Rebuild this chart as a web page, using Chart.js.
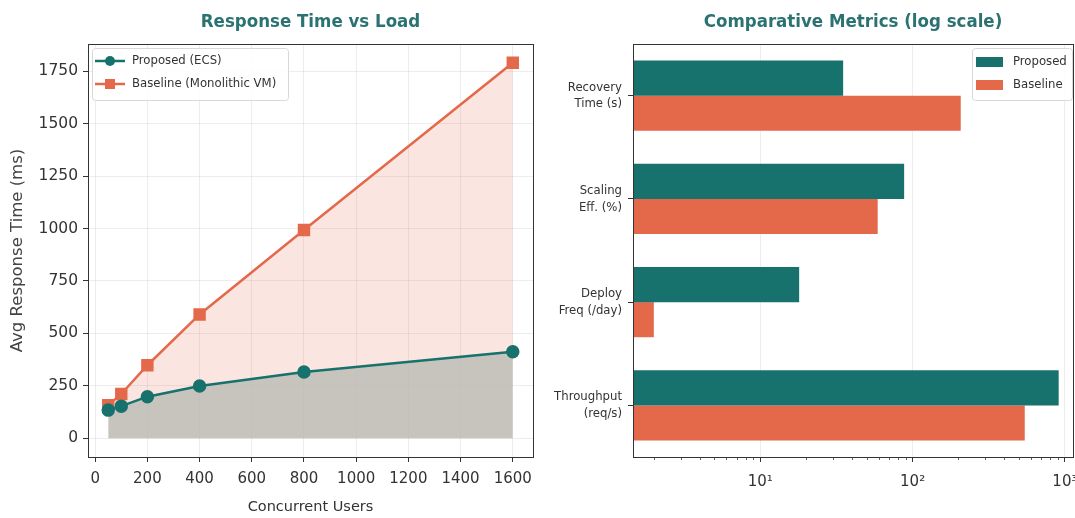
<!DOCTYPE html>
<html>
<head>
<meta charset="utf-8">
<script src="https://cdn.jsdelivr.net/npm/chart.js@4.4.1/dist/chart.umd.min.js"></script>
<style>
html,body{margin:0;padding:0;background:#fff;overflow:hidden;width:1075px;height:518px;}
#c1{position:absolute;left:0;top:0;}
#c2{position:absolute;left:545px;top:0;}
</style>
</head>
<body>
<canvas id="c1" width="545" height="518"></canvas>
<canvas id="c2" width="530" height="518"></canvas>
<script>
// ---- data ----
const USERS = [50, 100, 200, 400, 800, 1600];
const PROPOSED_MS = [134, 153, 198, 249, 316, 412];
const BASELINE_MS = [158, 211, 348, 590, 993, 1790];
const X_TICKS = [0, 200, 400, 600, 800, 1000, 1200, 1400, 1600];
const Y_TICKS = [0, 250, 500, 750, 1000, 1250, 1500, 1750];

const METRICS = [["Recovery", "Time (s)"], ["Scaling", "Eff. (%)"], ["Deploy", "Freq (/day)"], ["Throughput", "(req/s)"]];
const PROPOSED_M = [35, 88, 18, 910];
const BASELINE_M = [207, 59, 2, 545];
const LOG_TICKS = [10, 100, 1000];
const LOG_TICK_LABELS = ["10\u00b9", "10\u00b2", "10\u00b3"];

const SERIES_NAMES = ["Proposed (ECS)", "Baseline (Monolithic VM)"];
const BAR_NAMES = ["Proposed", "Baseline"];
const TITLES = ["Response Time vs Load", "Comparative Metrics (log scale)"];

// ---- style ----
const TEAL = "#17716c";
const ORANGE = "#e4694b";
const TITLE_COLOR = "#2b7272";
const FONT = '"DejaVu Sans Condensed", "DejaVu Sans", sans-serif';
const FONT_R = '"DejaVu Sans", sans-serif';
Chart.defaults.font.family = FONT;
Chart.defaults.color = "#333";

const boxPlugin = {
  id: "box",
  afterDatasetsDraw(chart) {
    const a = chart.chartArea, ctx = chart.ctx;
    ctx.save();
    ctx.strokeStyle = "#333";
    ctx.lineWidth = 1;
    ctx.strokeRect(Math.round(a.left) + 0.5, Math.round(a.top) + 0.5, Math.round(a.right - a.left), Math.round(a.bottom - a.top));
    ctx.restore();
  }
};

const axesTitle = {
  id: "axesTitle",
  afterDraw(chart, args, opts) {
    const a = chart.chartArea, ctx = chart.ctx;
    ctx.save();
    ctx.fillStyle = TITLE_COLOR;
    ctx.font = "bold 18.5px " + FONT;
    ctx.textAlign = "center";
    ctx.textBaseline = "middle";
    ctx.fillText(opts.text, (a.left + a.right) / 2, 22);
    ctx.restore();
  }
};

function legendBox(ctx, x, y, w, h) {
  ctx.save();
  ctx.fillStyle = "rgba(255,255,255,0.85)";
  ctx.strokeStyle = "#d8d8d8";
  ctx.lineWidth = 1;
  ctx.beginPath();
  ctx.roundRect(x + 0.5, y + 0.5, w, h, 3);
  ctx.fill();
  ctx.stroke();
  ctx.restore();
}

const lineLegend = {
  id: "lineLegend",
  afterDraw(chart) {
    const a = chart.chartArea, ctx = chart.ctx;
    const x = a.left + 4, y = a.top + 4;
    legendBox(ctx, x, y, 196, 52);
    const cols = [TEAL, ORANGE];
    SERIES_NAMES.forEach((name, i) => {
      const cy = y + 13 + i * 23;
      ctx.save();
      ctx.strokeStyle = cols[i];
      ctx.fillStyle = cols[i];
      ctx.lineWidth = 2.5;
      ctx.beginPath();
      ctx.moveTo(x + 3, cy);
      ctx.lineTo(x + 33, cy);
      ctx.stroke();
      ctx.beginPath();
      if (i === 0) ctx.arc(x + 18, cy, 5, 0, Math.PI * 2);
      else ctx.rect(x + 13, cy - 5, 10, 10);
      ctx.fill();
      ctx.fillStyle = "#333";
      ctx.font = "13px " + FONT;
      ctx.textBaseline = "middle";
      ctx.fillText(name, x + 40, cy);
      ctx.restore();
    });
  }
};

const barLegend = {
  id: "barLegend",
  afterDraw(chart) {
    const a = chart.chartArea, ctx = chart.ctx;
    const w = 100, x = a.right - w - 1, y = a.top + 4;
    legendBox(ctx, x, y, w, 52);
    const cols = [TEAL, ORANGE];
    BAR_NAMES.forEach((name, i) => {
      const cy = y + 14 + i * 23;
      ctx.save();
      ctx.fillStyle = cols[i];
      ctx.fillRect(x + 4, cy - 5, 27, 10);
      ctx.fillStyle = "#333";
      ctx.font = "13px " + FONT;
      ctx.textBaseline = "middle";
      ctx.fillText(name, x + 41, cy);
      ctx.restore();
    });
  }
};

const minorLogTicks = {
  id: "minorLogTicks",
  afterDraw(chart) {
    const s = chart.scales.x, ctx = chart.ctx;
    ctx.save();
    ctx.strokeStyle = "#333";
    ctx.lineWidth = 0.8;
    for (let e = 0; e <= 3; e++) {
      for (let m = 2; m <= 9; m++) {
        const v = m * Math.pow(10, e);
        if (v < s.min || v > s.max) continue;
        const px = Math.round(s.getPixelForValue(v)) + 0.5;
        ctx.beginPath();
        ctx.moveTo(px, s.top);
        ctx.lineTo(px, s.top + 3);
        ctx.stroke();
      }
    }
    ctx.restore();
  }
};

const plain = (v) => String(v);

// ---- left chart ----
new Chart(document.getElementById("c1"), {
  type: "line",
  data: {
    datasets: [
      {
        label: SERIES_NAMES[0],
        data: USERS.map((u, i) => ({ x: u, y: PROPOSED_MS[i] })),
        borderColor: TEAL, backgroundColor: "rgba(188,188,182,0.82)",
        pointBackgroundColor: TEAL, pointBorderColor: TEAL,
        borderWidth: 2.5, pointRadius: 5.5, pointStyle: "circle",
        fill: "origin", tension: 0
      },
      {
        label: SERIES_NAMES[1],
        data: USERS.map((u, i) => ({ x: u, y: BASELINE_MS[i] })),
        borderColor: ORANGE, backgroundColor: "rgba(231,111,81,0.18)",
        pointBackgroundColor: ORANGE, pointBorderColor: ORANGE,
        borderWidth: 2.5, pointRadius: 7, pointStyle: "rect",
        fill: "origin", tension: 0
      }
    ]
  },
  options: {
    responsive: false, animation: false,
    layout: { autoPadding: false, padding: { top: 44, right: 12, bottom: 0, left: 0 } },
    plugins: { legend: { display: false }, tooltip: { enabled: false }, title: { display: false }, axesTitle: { text: TITLES[0] } },
    scales: {
      x: {
        type: "linear", min: -27.5, max: 1677.5,
        afterBuildTicks: (s) => { s.ticks = X_TICKS.map(v => ({ value: v })); },
        afterFit: (s) => { s.height = 61; s.paddingLeft = 0; s.paddingRight = 0; },
        ticks: { font: { size: 15, family: FONT_R }, padding: 8, maxRotation: 0, color: "#333", callback: plain },
        grid: { color: "rgba(0,0,0,0.07)", tickColor: "#333", tickLength: 5 },
        border: { display: false },
        title: { display: true, text: "Concurrent Users", font: { size: 14.5, family: FONT_R }, padding: { top: 2, bottom: 2 }, color: "#333" }
      },
      y: {
        type: "linear", min: -89.5, max: 1879.5,
        afterBuildTicks: (s) => { s.ticks = Y_TICKS.map(v => ({ value: v })); },
        afterFit: (s) => { s.width = 88; s.paddingTop = 0; s.paddingBottom = 0; },
        ticks: { font: { size: 15.5, family: FONT_R }, padding: 5, color: "#333", callback: plain },
        grid: { color: "rgba(0,0,0,0.07)", tickColor: "#333", tickLength: 5 },
        border: { display: false },
        title: { display: true, text: "Avg Response Time (ms)", font: { size: 16.5, family: FONT_R }, padding: { top: 8, bottom: 2 }, color: "#444" }
      }
    }
  },
  plugins: [boxPlugin, lineLegend, axesTitle]
});

// ---- right chart ----
new Chart(document.getElementById("c2"), {
  type: "bar",
  data: {
    labels: METRICS,
    datasets: [
      { label: BAR_NAMES[0], data: PROPOSED_M, backgroundColor: TEAL, borderWidth: 0 },
      { label: BAR_NAMES[1], data: BASELINE_M, backgroundColor: ORANGE, borderWidth: 0 }
    ]
  },
  options: {
    responsive: false, animation: false, indexAxis: "y",
    datasets: { bar: { categoryPercentage: 0.68, barPercentage: 1.0 } },
    layout: { autoPadding: false, padding: { top: 44, right: 2, bottom: 0, left: 0 } },
    plugins: { legend: { display: false }, tooltip: { enabled: false }, title: { display: false }, axesTitle: { text: TITLES[1] } },
    scales: {
      x: {
        type: "logarithmic", min: 1.46, max: 1130,
        afterBuildTicks: (s) => { s.ticks = LOG_TICKS.map(v => ({ value: v, major: true })); },
        afterFit: (s) => { s.height = 61; s.paddingLeft = 0; s.paddingRight = 0; },
        ticks: {
          font: { size: 15, family: FONT_R }, padding: 11, maxRotation: 0, autoSkip: false, color: "#333",
          callback: (v) => { const i = LOG_TICKS.indexOf(v); return i >= 0 ? LOG_TICK_LABELS[i] : ""; }
        },
        grid: { color: "rgba(0,0,0,0.07)", tickColor: "#333", tickLength: 5 },
        border: { display: false }
      },
      y: {
        type: "category",
        afterFit: (s) => { s.width = 88; s.paddingTop = 0; s.paddingBottom = 0; },
        ticks: { font: { size: 13, lineHeight: 1.3 }, padding: 6, color: "#333" },
        grid: { offset: false, drawOnChartArea: false, tickColor: "#333", tickLength: 5 },
        border: { display: false }
      }
    }
  },
  plugins: [boxPlugin, barLegend, minorLogTicks, axesTitle]
});
</script>
</body>
</html>
